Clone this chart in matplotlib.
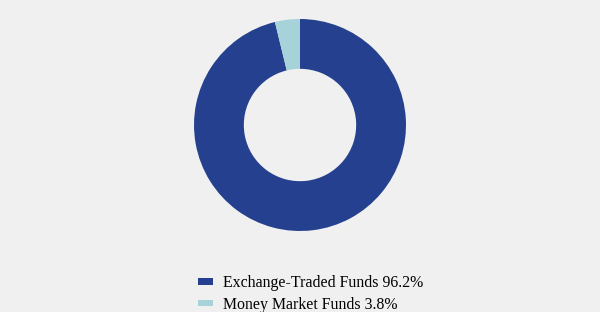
import matplotlib
matplotlib.use("Agg")
import matplotlib.pyplot as plt
from matplotlib.patches import Patch

# data
labels = ["Exchange-Traded Funds", "Money Market Funds"]
values = [96.2, 3.8]
colors = ["#25408f", "#a6d2d9"]
bg = "#f0f0f0"

plt.rcParams["font.family"] = ["Liberation Serif", "DejaVu Serif"]

fig = plt.figure(figsize=(6, 3.12), dpi=100, facecolor=bg)

# donut: center (300,125) px, outer radius 106 px
ax = fig.add_axes([194 / 600, (187 - 106) / 312, 212 / 600, 212 / 312])
ax.set_facecolor(bg)
ax.pie(values, colors=colors, startangle=90, counterclock=False,
       radius=1, wedgeprops=dict(width=0.47, edgecolor="none"))
ax.set_xlim(-1, 1)
ax.set_ylim(-1, 1)
ax.set_aspect("equal")
ax.axis("off")

handles = [Patch(facecolor=c, edgecolor="none") for c in colors]
legend_labels = [f"{l} {v}%" for l, v in zip(labels, values)]
fig.legend(handles, legend_labels, loc="center left",
           bbox_to_anchor=(198 / 600, (312 - 294) / 312),
           frameon=False, fontsize=11.4, handlelength=0.95, handleheight=0.27,
           handletextpad=0.63, labelspacing=0.33, borderaxespad=0,
           borderpad=0)

fig.savefig("out.png", dpi=100, facecolor=bg)
